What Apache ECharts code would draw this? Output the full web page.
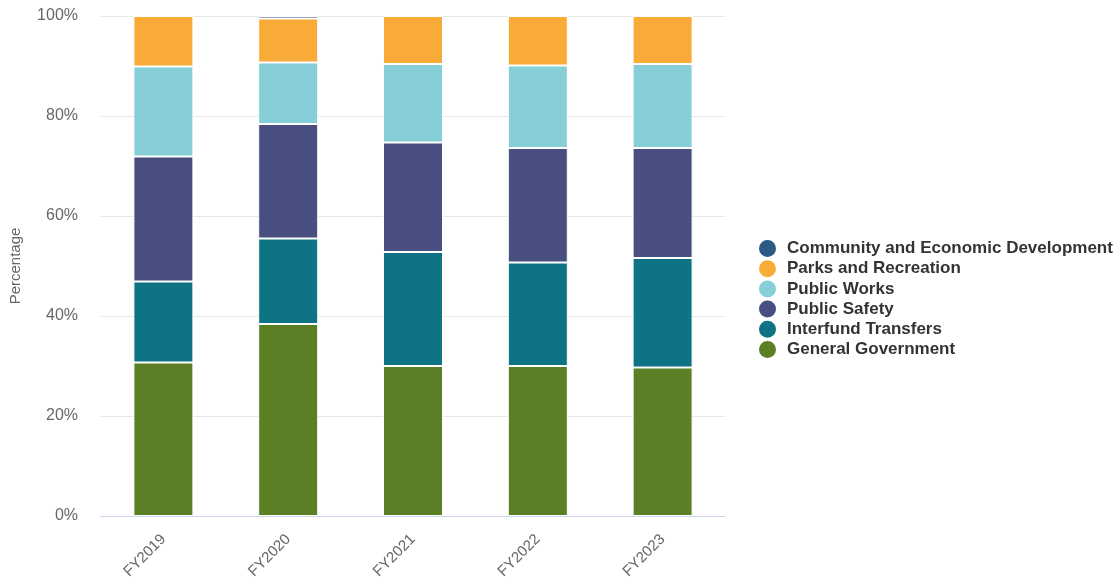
<!DOCTYPE html>
<html>
<head>
<meta charset="utf-8">
<script src="https://cdn.jsdelivr.net/npm/echarts@6/dist/echarts.min.js"></script>
<style>
html,body{margin:0;padding:0;background:#fff;}
#chart{width:1120px;height:582px;}
</style>
</head>
<body>
<div id="chart"></div>
<script>
const categories = ['FY2019','FY2020','FY2021','FY2022','FY2023'];
const generalGovernment = [30.7, 38.4, 30.0, 30.0, 29.7];
const interfundTransfers = [16.2, 17.1, 22.8, 20.7, 21.9];
const publicSafety = [25.0, 22.9, 21.9, 22.9, 22.0];
const publicWorks = [18.0, 12.3, 15.7, 16.5, 16.8];
const parksRecreation = [10.1, 8.8, 9.6, 9.9, 9.6];
const communityEconomic = [0, 0.5, 0, 0, 0];
const yTicks = [0, 20, 40, 60, 80, 100];

const seriesDefs = [
  {name:'General Government', data:generalGovernment, color:'#5a7f25'},
  {name:'Interfund Transfers', data:interfundTransfers, color:'#0e7382'},
  {name:'Public Safety', data:publicSafety, color:'#484f80'},
  {name:'Public Works', data:publicWorks, color:'#86ced8'},
  {name:'Parks and Recreation', data:parksRecreation, color:'#f8ab37'},
  {name:'Community and Economic Development', data:communityEconomic, color:'#2b5a84'}
];

const chart = echarts.init(document.getElementById('chart'), null, {renderer:'canvas'});
chart.setOption({
  animation:false,
  textStyle:{fontFamily:'Liberation Sans, Arial, sans-serif'},
  grid:{left:101, right:395, top:16, bottom:66, containLabel:false},
  legend:{
    orient:'vertical',
    left:757, top:238,
    padding:0,
    icon:'circle',
    itemWidth:29, itemHeight:19,
    itemGap:-0.8,
    data:seriesDefs.map(s=>s.name).reverse(),
    textStyle:{fontSize:17, fontWeight:'bold', color:'#333333', lineHeight:19}
  },
  xAxis:{
    type:'category',
    data:categories,
    axisLine:{lineStyle:{color:'#ccd6eb', width:1}},
    axisTick:{show:false},
    axisLabel:{rotate:45, fontSize:15, color:'#666666', margin:21}
  },
  yAxis:{
    type:'value',
    min:0, max:100, interval:20,
    name:'Percentage',
    nameLocation:'middle',
    nameGap:78,
    nameTextStyle:{fontSize:15, color:'#666666'},
    axisLabel:{fontSize:16, color:'#666666', margin:23, formatter:v=>yTicks.includes(v)? v+'%' : ''},
    splitLine:{lineStyle:{color:'#e6e6e6', width:1}},
    axisLine:{show:false},
    axisTick:{show:false}
  },
  series:seriesDefs.map(s=>({
    name:s.name,
    type:'bar',
    stack:'total',
    data:s.data,
    barWidth:60,
    itemStyle:{color:s.color, borderColor:'#ffffff', borderWidth:1}
  }))
});
</script>
</body>
</html>
